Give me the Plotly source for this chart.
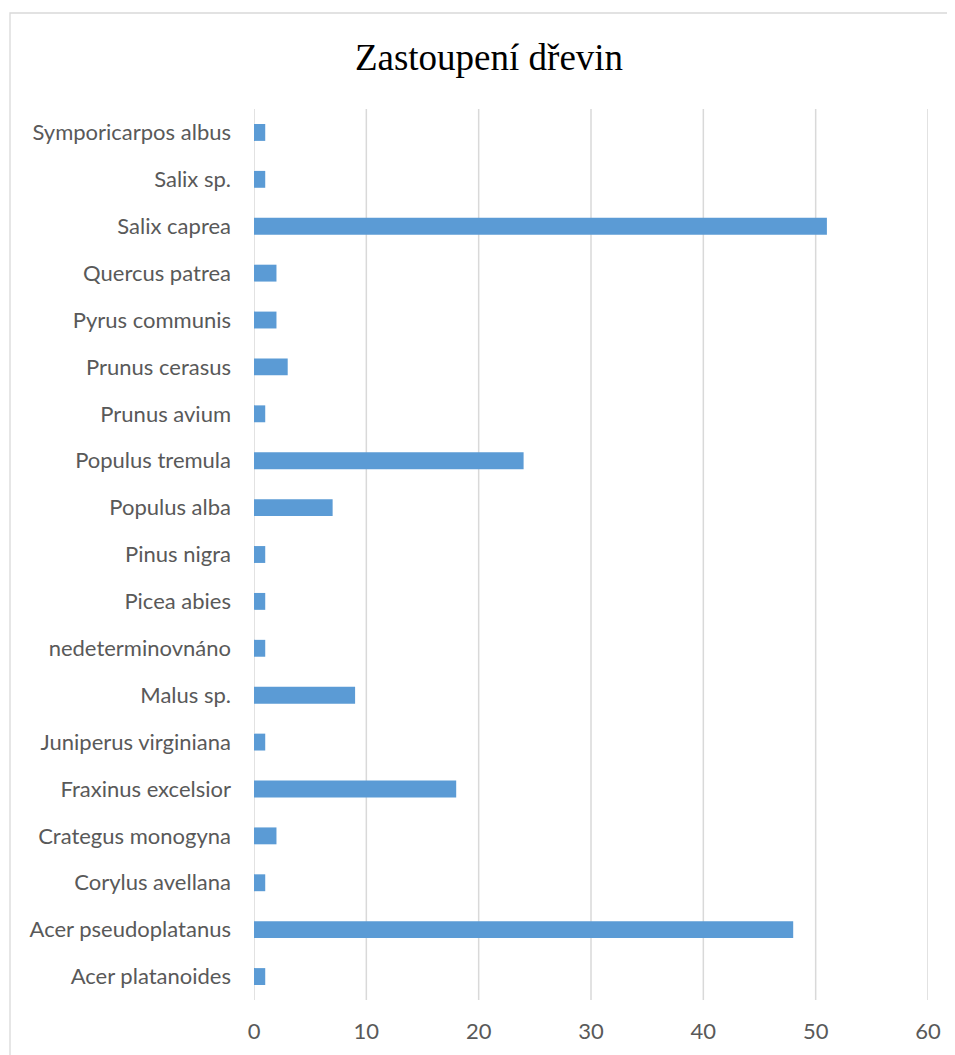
import plotly.graph_objects as go

species = ["Acer platanoides", "Acer pseudoplatanus", "Corylus avellana", "Crategus monogyna",
           "Fraxinus excelsior", "Juniperus virginiana", "Malus sp.", "nedeterminovnáno",
           "Picea abies", "Pinus nigra", "Populus alba", "Populus tremula", "Prunus avium",
           "Prunus cerasus", "Pyrus communis", "Quercus patrea", "Salix caprea", "Salix sp.",
           "Symporicarpos albus"]
counts = [1, 48, 1, 2, 18, 1, 9, 1, 1, 1, 7, 24, 1, 3, 2, 2, 51, 1, 1]
x_ticks = [0, 10, 20, 30, 40, 50, 60]

OFF = 8  # default page body margin
W, H = 955 - OFF, 1055 - OFF
L, T = 254 - OFF, 109 - OFF
R = W - (928 - OFF)
B = H - (1000 - OFF)
pw, ph = W - L - R, H - T - B

fig = go.Figure(go.Bar(
    x=counts, y=species, orientation="h",
    marker=dict(color="#5b9bd5", line=dict(width=0)),
))

text_font = dict(family="Lato, Carlito, Open Sans, sans-serif", size=22, color="#595959")

fig.update_layout(
    width=W, height=H,
    margin=dict(l=L, r=R, t=T, b=B),
    paper_bgcolor="white", plot_bgcolor="white",
    bargap=0.64,
    showlegend=False,
    title=dict(text="Zastoupení dřevin", x=(489 - OFF) / W, xanchor="center", xref="container",
               y=1 - (57 - OFF) / H, yanchor="middle", yref="container",
               font=dict(family="Liberation Serif, Times New Roman, serif", size=37, color="black")),
    xaxis=dict(range=[0, 60], tickvals=x_ticks, showgrid=False,
               zeroline=False, showline=False, tickfont=text_font, ticklabelstandoff=16, fixedrange=True),
    yaxis=dict(categoryorder="array", categoryarray=species, showgrid=False, zeroline=False,
               showline=False, tickfont=text_font, ticklabelstandoff=22),
)

# vertical gridlines at each tick (including the range ends)
for v in x_ticks:
    fig.add_shape(type="line", xref="x", yref="paper", x0=v, x1=v, y0=0, y1=1,
                  line=dict(color="#d9d9d9", width=1.5), layer="below")

# outer chart frame (extends beyond the window on the right and bottom)
fig.add_shape(type="rect", xref="paper", yref="paper",
              x0=(10 - 254) / pw, x1=(968 - 254) / pw,
              y0=-(1065 - 1000) / ph, y1=1 + (109 - 13) / ph,
              line=dict(color="#d9d9d9", width=1.3), fillcolor="rgba(0,0,0,0)", layer="below")

fig.write_html("out.html")
